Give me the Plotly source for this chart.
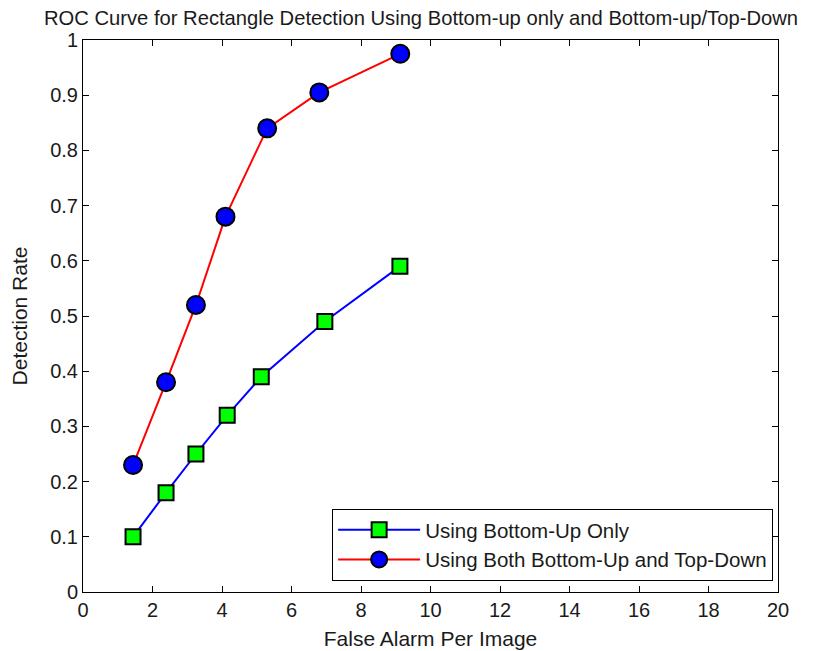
import plotly.graph_objects as go

# Data
fa_bottom_up = [1.44, 2.39, 3.25, 4.15, 5.13, 6.96, 9.12]
dr_bottom_up = [0.10, 0.18, 0.25, 0.32, 0.39, 0.49, 0.59]

fa_both = [1.44, 2.39, 3.25, 4.10, 5.30, 6.80, 9.13]
dr_both = [0.23, 0.38, 0.52, 0.68, 0.84, 0.905, 0.975]

x_ticks = list(range(0, 21, 2))
y_ticks = [i / 10 for i in range(11)]
y_labels = ["0"] + [f"{v:g}" for v in y_ticks[1:-1]] + ["1"]

FONT = "Liberation Sans, Arial, sans-serif"

fig = go.Figure()

fig.add_trace(go.Scatter(
    x=fa_bottom_up, y=dr_bottom_up,
    mode="lines+markers",
    name="Using Bottom-Up Only",
    line=dict(color="#0000FF", width=2),
    marker=dict(symbol="square", size=15, color="#00FF00",
                line=dict(color="black", width=2)),
))

fig.add_trace(go.Scatter(
    x=fa_both, y=dr_both,
    mode="lines+markers",
    name="Using Both Bottom-Up and Top-Down",
    line=dict(color="#FF0000", width=2),
    marker=dict(symbol="circle", size=18, color="#0000FF",
                line=dict(color="black", width=2)),
))

axis_common = dict(
    showgrid=False, zeroline=False, automargin=False,
    showline=True, linecolor="black", linewidth=1, mirror="ticks",
    ticks="inside", ticklen=6, tickcolor="black",
    tickfont=dict(family=FONT, size=20, color="#1a1a1a"),
    title_font=dict(family=FONT, size=21, color="#1a1a1a"),
)

# page has an 8px body margin, so the figure is drawn 8px smaller
fig.update_layout(
    width=809, height=643,
    paper_bgcolor="white", plot_bgcolor="white",
    margin=dict(l=75, r=39, t=32, b=59),
    font=dict(family=FONT, size=21, color="#1a1a1a"),
    title=dict(
        text="ROC Curve for Rectangle Detection Using Bottom-up only and Bottom-up/Top-Down",
        x=0.5105, xanchor="center", y=0.985, yanchor="middle",
        font=dict(family=FONT, size=20.2, color="#1a1a1a"),
    ),
    xaxis=dict(**axis_common, range=[0, 20], tickvals=x_ticks,
               title=dict(text="False Alarm Per Image", standoff=11)),
    yaxis=dict(**axis_common, range=[0, 1], tickvals=y_ticks, ticktext=y_labels,
               title=dict(text="Detection Rate", standoff=16)),
    legend=dict(
        x=0.993, xanchor="right", y=0.02, yanchor="bottom",
        bgcolor="white", bordercolor="black", borderwidth=1,
        font=dict(family=FONT, size=20.5, color="#1a1a1a"),
        tracegroupgap=0, itemwidth=82,
    ),
)

fig.write_html("out.html")
